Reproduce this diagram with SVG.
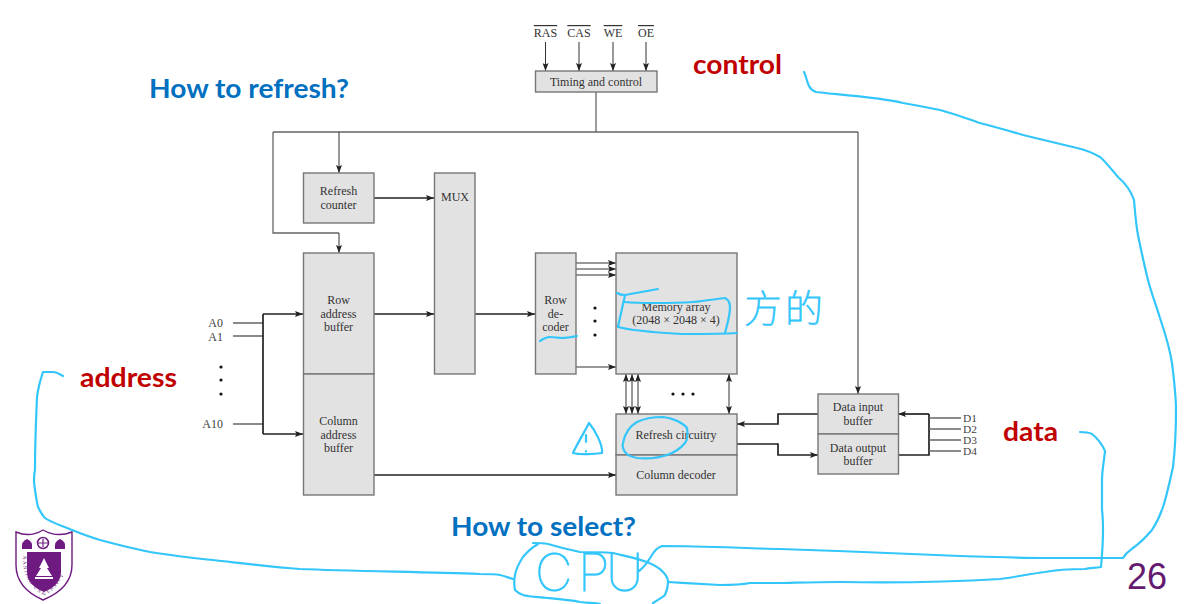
<svg xmlns="http://www.w3.org/2000/svg" width="1185" height="604" viewBox="0 0 1185 604">
<style>
.box{fill:#e2e2e2;stroke:#777;stroke-width:1.4}
.t{font-family:"Liberation Serif","Times New Roman",serif;font-size:12px;fill:#333;text-anchor:middle}
.n{font-family:"Liberation Serif","Times New Roman",serif;font-size:12px;fill:#444;text-anchor:end}
.d{font-family:"Liberation Serif","Times New Roman",serif;font-size:9.500px;fill:#444}
.ov{text-decoration:overline}
.c{fill:none;stroke:#333;stroke-width:1}
.c2{fill:none;stroke:#222;stroke-width:1.7}
.g{fill:none;stroke:#666;stroke-width:1.3}
.ink{fill:none;stroke:#33c6fb;stroke-width:2.2;stroke-linecap:round;stroke-linejoin:round}
.blue{font-family:Lato,"Open Sans",sans-serif;font-weight:700;font-size:26px;fill:#0070c0}
.red{font-family:Lato,"Open Sans",sans-serif;font-weight:700;font-size:26px;fill:#c00000}
.hand{fill:#33c6fb;stroke:#33c6fb;stroke-width:.9;font-weight:100}
.dot{fill:#111}
</style>
<defs>
<marker id="a" viewBox="0 0 8 6" refX="8" refY="3" markerWidth="8" markerHeight="6" markerUnits="userSpaceOnUse" orient="auto-start-reverse"><path d="M0 0L8 3L0 6L1.500 3Z" fill="#222"/></marker>
</defs>

<g id="connectors">
<path class="g" d="M596 92V132M273 132H858M273 132V233H339"/>
<path class="c" d="M858 132V394" marker-end="url(#a)"/>
<path class="c" d="M545.500 42V71" marker-end="url(#a)"/>
<path class="c" d="M579 42V71" marker-end="url(#a)"/>
<path class="c" d="M613 42V71" marker-end="url(#a)"/>
<path class="c" d="M646 42V71" marker-end="url(#a)"/>
<path class="c" d="M339 132V173" marker-end="url(#a)"/>
<path class="c" d="M339 233V253" marker-end="url(#a)"/>
<path class="c2" d="M374 198H434" marker-end="url(#a)"/>
<path class="c2" d="M374 314H434" marker-end="url(#a)"/>
<path class="c2" d="M475 314H535" marker-end="url(#a)"/>
<path class="g" d="M233 323H263M233 336H263M233 424H263"/>
<path class="c2" d="M263 314V434"/>
<path class="c2" d="M263 314H303" marker-end="url(#a)"/>
<path class="c2" d="M263 434H303" marker-end="url(#a)"/>
<path class="c2" d="M374 475H616" marker-end="url(#a)"/>
<path class="c" d="M576 263H616" marker-end="url(#a)"/>
<path class="c" d="M576 269H616" marker-end="url(#a)"/>
<path class="c" d="M576 275H616" marker-end="url(#a)"/>
<path class="c" d="M576 367H616" marker-end="url(#a)"/>
<path class="c" d="M626 374V414" marker-start="url(#a)" marker-end="url(#a)"/>
<path class="c" d="M632 374V414" marker-start="url(#a)" marker-end="url(#a)"/>
<path class="c" d="M638 374V414" marker-start="url(#a)" marker-end="url(#a)"/>
<path class="c" d="M729 374V414" marker-start="url(#a)" marker-end="url(#a)"/>
<path class="c2" d="M818 414H778V424H737" marker-end="url(#a)"/>
<path class="c2" d="M737 444H778V455H818" marker-end="url(#a)"/>
<path class="c2" d="M929 414H898" marker-end="url(#a)"/>
<path class="c2" d="M898 455H929V414"/>
<path class="g" d="M929 418H961M929 429H961M929 440H961M929 451H961"/>
</g>

<g id="timing"><rect class="box" x="535.500" y="71" width="121.500" height="21"/><text class="t" x="596" y="86">Timing and control</text></g>
<g id="inputs">
<text class="t ov" x="545.500" y="37">RAS</text><text class="t ov" x="579" y="37">CAS</text><text class="t ov" x="613" y="37">WE</text><text class="t ov" x="646" y="37">OE</text>
<text class="n" x="223" y="327">A0</text><text class="n" x="223" y="341">A1</text><text class="n" x="223" y="428">A10</text>
<circle class="dot" cx="221" cy="367" r="1.600"/><circle class="dot" cx="221" cy="380" r="1.600"/><circle class="dot" cx="221" cy="394" r="1.600"/>
<text class="d" x="963" y="421.500" textLength="14" lengthAdjust="spacingAndGlyphs">D1</text><text class="d" x="963" y="432.500" textLength="14" lengthAdjust="spacingAndGlyphs">D2</text><text class="d" x="963" y="443.500" textLength="14" lengthAdjust="spacingAndGlyphs">D3</text><text class="d" x="963" y="454.500" textLength="14" lengthAdjust="spacingAndGlyphs">D4</text>
</g>
<g id="refresh-counter"><rect class="box" x="303.500" y="173" width="70.500" height="50"/><text class="t" x="338.500" y="195">Refresh</text><text class="t" x="338.500" y="209">counter</text></g>
<g id="mux"><rect class="box" x="434.500" y="173" width="40.500" height="201"/><text class="t" x="455" y="201">MUX</text></g>
<g id="row-address-buffer"><rect class="box" x="303.500" y="253" width="70.500" height="121"/><text class="t" x="338.500" y="304">Row</text><text class="t" x="338.500" y="317.500">address</text><text class="t" x="338.500" y="331">buffer</text></g>
<g id="column-address-buffer"><rect class="box" x="303.500" y="374" width="70.500" height="121"/><text class="t" x="338.500" y="425">Column</text><text class="t" x="338.500" y="438.500">address</text><text class="t" x="338.500" y="452">buffer</text></g>
<g id="row-decoder"><rect class="box" x="535.500" y="253" width="40.500" height="121"/><text class="t" x="555.500" y="304">Row</text><text class="t" x="555.500" y="317.500">de-</text><text class="t" x="555.500" y="331">coder</text></g>
<g id="row-dots"><circle class="dot" cx="595" cy="308" r="1.600"/><circle class="dot" cx="595" cy="321" r="1.600"/><circle class="dot" cx="595" cy="335" r="1.600"/></g>
<g id="memory-array"><rect class="box" x="616" y="253" width="121" height="121"/><text class="t" x="676" y="311">Memory array</text><text class="t" x="676" y="324">(2048 × 2048 × 4)</text></g>
<g id="column-dots"><circle class="dot" cx="673" cy="394" r="1.600"/><circle class="dot" cx="683" cy="394" r="1.600"/><circle class="dot" cx="693" cy="394" r="1.600"/></g>
<g id="refresh-circuitry"><rect class="box" x="616" y="414" width="121" height="41"/><text class="t" x="676" y="439">Refresh circuitry</text></g>
<g id="column-decoder"><rect class="box" x="616" y="455" width="121" height="40"/><text class="t" x="676" y="479">Column decoder</text></g>
<g id="data-input-buffer"><rect class="box" x="818" y="394" width="80.500" height="40"/><text class="t" x="858" y="411">Data input</text><text class="t" x="858" y="425">buffer</text></g>
<g id="data-output-buffer"><rect class="box" x="818" y="434" width="80.500" height="40"/><text class="t" x="858" y="452">Data output</text><text class="t" x="858" y="465">buffer</text></g>

<g id="labels">
<text class="blue" x="149" y="98" textLength="200" lengthAdjust="spacingAndGlyphs">How to refresh?</text>
<text class="blue" x="451" y="536" textLength="185" lengthAdjust="spacingAndGlyphs">How to select?</text>
<text class="red" x="693" y="74" textLength="89" lengthAdjust="spacingAndGlyphs">control</text>
<text class="red" x="80" y="387" textLength="97" lengthAdjust="spacingAndGlyphs">address</text>
<text class="red" x="1003" y="441" textLength="55" lengthAdjust="spacingAndGlyphs">data</text>
<text x="1127" y="589" font-family="Liberation Sans,Arial,sans-serif" font-size="36" fill="#641a6e">26</text>
</g>

<g id="logo">
<path d="M16 532Q30 538 43 530Q57 538 72 532V565Q72 588 43 600Q16 588 16 565Z" fill="#fff" stroke="#6e1a80" stroke-width="1.400"/>
<path d="M27 552H61V572Q61 585 44 592Q27 585 27 572Z" fill="#6e1a80"/>
<path d="M44 558L49 568H47L52 576H36L41 568H39Z" fill="#fff"/>
<rect x="35" y="577" width="18" height="2" fill="#fff"/>
<circle cx="43" cy="543" r="5.500" fill="#fff" stroke="#6e1a80" stroke-width="1.500"/>
<path d="M38 543H48M43 539V547" stroke="#6e1a80" stroke-width="1.200"/>
<path d="M22 549Q21 541 27 539Q33 541 32 549Z" fill="#6e1a80"/>
<path d="M55 549Q54 541 60 539Q66 541 65 549Z" fill="#6e1a80"/>
<path id="logoarc" d="M23 556C22 575 30 588 44 596C58 588 67 575 67 556" fill="none"/>
<text font-family="Liberation Serif,serif" font-size="5" letter-spacing="1.400" fill="#6e1a80"><textPath href="#logoarc">NANJING UNIVERSITY</textPath></text>
</g>

<g id="annotations">
<path class="ink" d="M804 72C806 76 807 82 809 86C811 90 813 91 816 92C830 94 880 97 903 103C915 105 930 108 940 110C955 114 968 119 980 123C995 127 1010 131 1023 135C1040 139 1060 144 1077 148C1085 150 1095 154 1100 157C1106 162 1112 170 1118 177C1125 183 1131 191 1134 200C1135 212 1136 225 1138 235C1141 250 1145 268 1148 280C1151 292 1156 305 1160 318C1165 333 1170 350 1172 363C1174 380 1176 395 1176 410C1176 430 1175 450 1173 467C1170 480 1167 495 1163 507C1160 516 1156 524 1152 530C1146 537 1140 543 1133 548C1129 551 1126 553 1123 558C1100 558 1070 558 1045 558C1020 558 1000 557 960 556C920 554 840 551 780 549C740 548 700 546 662 546C656 548 654 552 650 558C647 563 643 568 639 571"/>
<path class="ink" d="M1080 432C1085 432 1088 432 1092 434C1097 438 1102 444 1105 451C1104 462 1102 470 1102 480C1102 490 1102 500 1102 510C1103 518 1103 525 1103 530C1103 545 1102 556 1101 567C1095 568 1090 568 1085 569C1070 569 1055 570 1045 572C1030 574 1015 577 1000 579C950 582 900 583 840 582C810 582 790 583 780 583C765 583 755 583 750 583C740 585 730 585 720 585C700 584 685 583 668 582"/>
<path class="ink" d="M63 376C58 373 55 372 53 372C50 372 46 372 43 372C40 381 38 389 37 397C36 420 35 445 35 470C34 474 34 478 34 482C35 490 36 499 38 507C40 511 42 515 45 518C50 522 60 525 72 530C82 534 90 537 100 540C115 544 130 548 150 552C170 555 190 558 213 560C240 563 270 567 300 569C350 571 420 572 480 574C490 574 495 574 500 575C505 576 509 578 513 579"/>
<path class="ink" d="M533 543C538 543 543 543 548 544C558 547 570 550 580 552C590 552 600 552 613 553C625 556 636 558 647 562C654 565 660 568 663 572C666 575 668 578 668 582C668 587 667 591 665 595C662 598 657 600 653 603"/>
<path class="ink" d="M538 544C533 547 527 552 523 557C519 563 516 569 515 575C514 580 514 585 515 590C517 592 520 594 523 595C530 597 540 597 547 598C558 599 570 600 580 602C587 603 595 603 600 604"/>
<text class="hand" font-family="Inter,Roboto,Liberation Sans,sans-serif" font-size="52" x="535 578 606" y="591">CPU</text>
<text class="hand" font-family="Noto Sans CJK SC,sans-serif" font-size="38" x="744 785" y="322">方的</text>
<path class="ink" d="M589 423C584 433 577 444 573 453C580 455 595 454 602 453C603 445 595 430 589 423M586 435V442M586 451V451.500"/>
<path class="ink" d="M623 443C625 433 630 426 637 422C645 418 655 417 663 417C672 418 682 422 687 428C688 434 688 439 685 443C680 449 673 453 667 455C658 458 646 459 637 458C632 457 627 455 625 452C623 449 622 446 623 443Z"/>
<path class="ink" d="M617 293C620 295 622 295 625 295C635 293 648 291 658 289M625 295C623 305 620 317 618 327C630 330 642 331 653 332C665 333 676 334 687 334C705 334 722 334 737 333M625 302C635 303 644 303 653 303C666 303 680 303 693 302C705 301 716 299 725 298C729 300 730 303 730 307C730 316 727 325 725 333"/>
<path class="ink" d="M540 341C543 339 546 337 550 337C554 337 558 338 562 338C567 338 572 337 577 336"/>
</g>
</svg>
